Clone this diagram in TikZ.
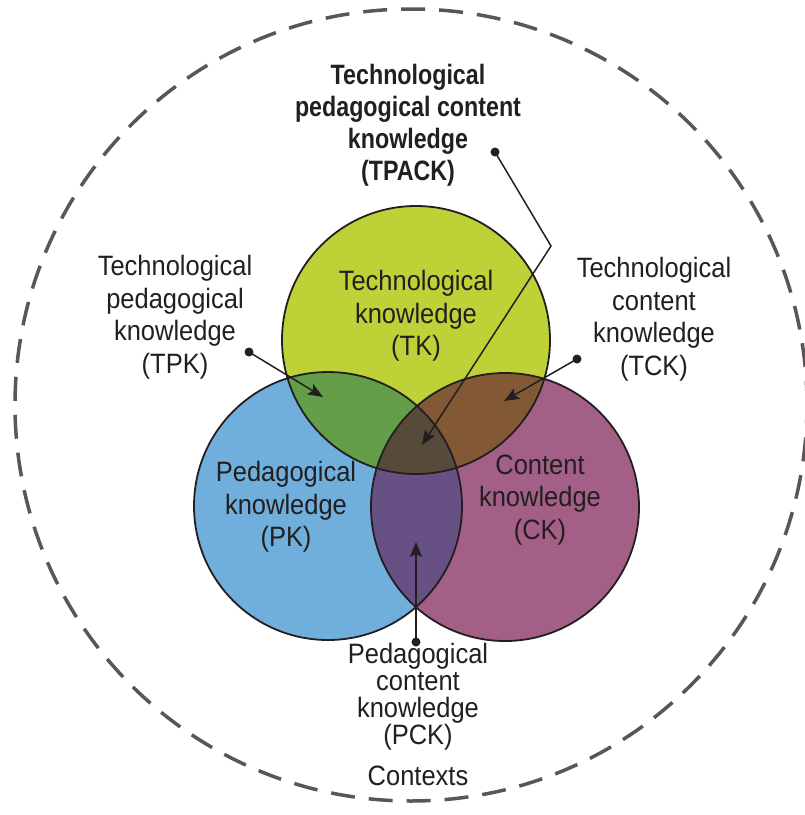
\documentclass[tikz,border=0pt]{standalone}
\usepackage{fontspec}
\setmainfont{Liberation Sans}[FakeStretch=0.91]
\newfontfamily\headfont{Liberation Sans}[FakeStretch=0.83]
\usetikzlibrary{arrows.meta}
\definecolor{tkcol}{HTML}{BED136}
\definecolor{pkcol}{HTML}{70AEDB}
\definecolor{ckcol}{HTML}{A35F86}
\definecolor{tpkcol}{HTML}{649E48}
\definecolor{tckcol}{HTML}{825934}
\definecolor{pckcol}{HTML}{675083}
\definecolor{tpackcol}{HTML}{564B3A}
\definecolor{ink}{HTML}{231F20}
\definecolor{ctxcol}{HTML}{5A5657}
\tikzset{
  label/.style={align=center, text=ink, font=\fontsize{28}{32.5}\selectfont, inner sep=0pt},
  tightlabel/.style={label, font=\fontsize{28}{27}\selectfont},
  headlabel/.style={align=center, text=ink, font=\headfont\bfseries\fontsize{28}{32}\selectfont, inner sep=0pt},
  outline/.style={draw=ink, line width=1.8pt},
  pointer/.style={draw=ink, line width=1.5pt, -{Stealth[length=15pt,width=12pt,inset=3pt]}},
  dot/.style={fill=ink},
  context/.style={draw=ctxcol, line width=3.5pt, dash pattern=on 24pt off 14pt}
}
\begin{document}
\begin{tikzpicture}[x=1pt,y=-1pt]
\useasboundingbox (0,0) rectangle (805,815);
\def\R{134pt}
% circle centres
\coordinate (tk) at (416,340);
\coordinate (pk) at (328,506);
\coordinate (ck) at (505,507);
\coordinate (ctx) at (411,405);

% surrounding contexts
\draw[context] (ctx) circle[radius=396pt];

% the three knowledge circles
\fill[pkcol] (pk) circle[radius=\R];
\fill[ckcol] (ck) circle[radius=\R];
\fill[tkcol] (tk) circle[radius=\R];
% pairwise overlaps
\begin{scope}
  \clip (tk) circle[radius=\R];
  \fill[tpkcol] (pk) circle[radius=\R];
  \fill[tckcol] (ck) circle[radius=\R];
\end{scope}
\begin{scope}
  \clip (pk) circle[radius=\R];
  \fill[pckcol] (ck) circle[radius=\R];
\end{scope}
% triple overlap
\begin{scope}
  \clip (tk) circle[radius=\R];
  \clip (pk) circle[radius=\R];
  \fill[tpackcol] (ck) circle[radius=\R];
\end{scope}
\draw[outline] (pk) circle[radius=\R];
\draw[outline] (ck) circle[radius=\R];
\draw[outline] (tk) circle[radius=\R];

% circle labels
\node[label] (tklab) at (416,316) {Technological\\knowledge\\(TK)};
\node[label] (pklab) at (286,507) {Pedagogical\\knowledge\\(PK)};
\node[label] (cklab) at (540,500) {Content\\knowledge\\(CK)};

% outer labels
\node[headlabel] (tpacklab) at (408,125) {Technological\\pedagogical content\\knowledge\\(TPACK)};
\node[label] (tpklab) at (175,317) {Technological\\pedagogical\\knowledge\\(TPK)};
\node[label] (tcklab) at (654,319) {Technological\\content\\knowledge\\(TCK)};
\node[tightlabel] (pcklab) at (418,697) {Pedagogical\\content\\knowledge\\(PCK)};
\node[label] (ctxlab) at (418,776) {Contexts};

% pointer ends
\coordinate (tpackdot) at (495,152);
\coordinate (tpackbend) at (551,246);
\coordinate (tpacktip) at (422,445);
\coordinate (tpkdot) at (249,352);
\coordinate (tpktip) at (323,397);
\coordinate (tckdot) at (577,359);
\coordinate (tcktip) at (504,401);
\coordinate (pckdot) at (416,642);
\coordinate (pcktip) at (416,542);

\draw[pointer] (tpackdot) -- (tpackbend) -- (tpacktip);
\draw[pointer] (tpkdot) -- (tpktip);
\draw[pointer] (tckdot) -- (tcktip);
\draw[pointer] (pckdot) -- (pcktip);
\foreach \p in {tpackdot,tpkdot,tckdot,pckdot}
  \fill[dot] (\p) circle[radius=4.5pt];
\end{tikzpicture}
\end{document}
